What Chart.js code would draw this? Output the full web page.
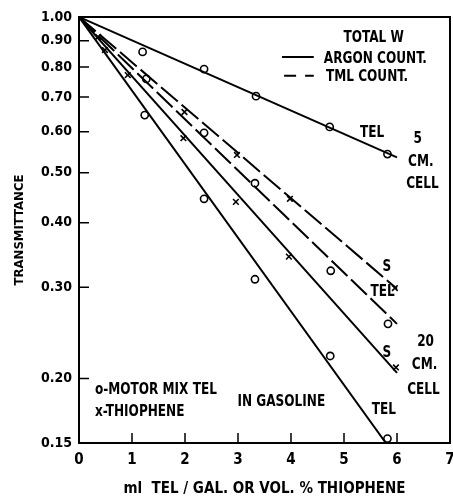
<!DOCTYPE html>
<html>
<head>
<meta charset="utf-8">
<script src="https://cdn.jsdelivr.net/npm/chart.js@4/dist/chart.umd.min.js"></script>
<style>
  html, body { margin: 0; padding: 0; background: #fff; }
  #wrap { width: 453px; height: 499px; }
</style>
</head>
<body>
<div id="wrap"><canvas id="c" width="453" height="499"></canvas></div>
<script>
// ---- axis ticks ----
const xTicks = [0, 1, 2, 3, 4, 5, 6, 7];
const yTicks = [0.15, 0.20, 0.30, 0.40, 0.50, 0.60, 0.70, 0.80, 0.90, 1.00];

// ---- measured points ----
// motor mix TEL, 5 cm cell
const tel5X = [1.20, 2.36, 3.34, 4.73, 5.82];
const tel5Y = [0.856, 0.793, 0.703, 0.613, 0.543];
// motor mix TEL, 20 cm cell (upper group, TML count)
const telTmlX = [1.27, 2.36, 3.32, 4.75, 5.83];
const telTmlY = [0.759, 0.597, 0.477, 0.323, 0.255];
// motor mix TEL, 20 cm cell (lower group, argon count)
const telArX = [1.24, 2.36, 3.32, 4.74, 5.82];
const telArY = [0.646, 0.445, 0.311, 0.221, 0.153];
// thiophene, TML count
const thioTmlX = [0.36, 1.99, 2.98, 3.98, 5.96];
const thioTmlY = [0.915, 0.655, 0.541, 0.445, 0.299];
// thiophene, argon count
const thioArX = [0.49, 0.92, 1.97, 2.96, 3.96, 5.98];
const thioArY = [0.863, 0.772, 0.583, 0.439, 0.344, 0.210];

// ---- fitted lines (start, end) ----
const fitTel5X = [0, 6.0];      const fitTel5Y = [1.0, 0.535];
const fitThioTmlX = [0, 6.0];   const fitThioTmlY = [1.0, 0.298];
const fitTelTmlX = [0, 6.0];    const fitTelTmlY = [1.0, 0.255];
const fitThioArX = [0, 6.0];    const fitThioArY = [1.0, 0.205];
const fitTelArX = [0, 5.79];    const fitTelArY = [1.0, 0.150];

// ---- text annotations ----
const notes = [
  {t: 'TOTAL W', x: 5.56, y: 0.911, a: 'center'},
  {t: 'ARGON COUNT.', x: 4.62, y: 0.829, a: 'left'},
  {t: 'TML COUNT.', x: 4.66, y: 0.765, a: 'left'},
  {t: 'TEL', x: 5.53, y: 0.596, a: 'center'},
  {t: '5', x: 6.39, y: 0.581, a: 'center'},
  {t: 'CM.', x: 6.45, y: 0.524, a: 'center'},
  {t: 'CELL', x: 6.48, y: 0.475, a: 'center'},
  {t: 'S', x: 5.81, y: 0.328, a: 'center'},
  {t: 'TEL', x: 5.73, y: 0.294, a: 'center'},
  {t: 'S', x: 5.81, y: 0.224, a: 'center'},
  {t: '20', x: 6.54, y: 0.235, a: 'center'},
  {t: 'CM.', x: 6.52, y: 0.212, a: 'center'},
  {t: 'CELL', x: 6.50, y: 0.190, a: 'center'},
  {t: 'TEL', x: 5.75, y: 0.174, a: 'center'},
  {t: 'o-MOTOR MIX TEL', x: 0.30, y: 0.190, a: 'left'},
  {t: 'x-THIOPHENE', x: 0.30, y: 0.172, a: 'left'},
  {t: 'IN GASOLINE', x: 2.99, y: 0.180, a: 'left'}
];
// legend samples (x range in data units, y in transmittance)
const legendSolid = {x: [3.83, 4.43], y: 0.837};
const legendDash = {x: [3.87, 4.43], y: 0.770};

const FONT = "'DejaVu Sans Condensed', 'DejaVu Sans', sans-serif";
const pts = (xs, ys) => xs.map((v, i) => ({x: v, y: ys[i]}));

function lineDs(xs, ys, dashed) {
  return {type: 'line', data: pts(xs, ys), borderColor: '#000', borderWidth: 2,
          borderDash: dashed ? [22, 5] : [], pointRadius: 0, fill: false, tension: 0};
}
function markDs(xs, ys, style) {
  return {type: 'scatter', data: pts(xs, ys), pointStyle: style,
          pointRadius: style === 'circle' ? 3.6 : 4, pointBorderWidth: 1.6,
          pointBackgroundColor: '#fff', pointBorderColor: '#000', showLine: false};
}

const frame = {
  id: 'frame',
  afterDatasetsDraw(chart) {
    const {ctx, chartArea: ca, scales: {x, y}} = chart;
    ctx.save();
    ctx.strokeStyle = '#000';
    ctx.lineWidth = 2;
    // top and right frame
    ctx.beginPath();
    ctx.moveTo(ca.left, ca.top); ctx.lineTo(ca.right, ca.top); ctx.lineTo(ca.right, ca.bottom);
    ctx.stroke();
    // inward tick marks
    ctx.lineWidth = 1.5;
    ctx.beginPath();
    xTicks.forEach(v => { if (v > 0 && v < 7) { const px = x.getPixelForValue(v); ctx.moveTo(px, ca.bottom); ctx.lineTo(px, ca.bottom - 10); } });
    yTicks.forEach(v => { if (v > 0.15 && v < 1) { const py = y.getPixelForValue(v); ctx.moveTo(ca.left, py); ctx.lineTo(ca.left + 10, py); } });
    ctx.stroke();
    // legend samples
    ctx.lineWidth = 2;
    ctx.beginPath();
    ctx.moveTo(x.getPixelForValue(legendSolid.x[0]), y.getPixelForValue(legendSolid.y));
    ctx.lineTo(x.getPixelForValue(legendSolid.x[1]), y.getPixelForValue(legendSolid.y));
    ctx.stroke();
    ctx.setLineDash([12, 9]);
    ctx.beginPath();
    ctx.moveTo(x.getPixelForValue(legendDash.x[0]), y.getPixelForValue(legendDash.y));
    ctx.lineTo(x.getPixelForValue(legendDash.x[1]), y.getPixelForValue(legendDash.y));
    ctx.stroke();
    ctx.setLineDash([]);
    // text (narrow lettering: horizontally compressed)
    ctx.fillStyle = '#000';
    ctx.font = 'bold 16px ' + FONT;
    ctx.textBaseline = 'middle';
    const sx = 0.84;
    notes.forEach(n => {
      ctx.save();
      ctx.translate(x.getPixelForValue(n.x), y.getPixelForValue(n.y));
      ctx.scale(sx, 1);
      ctx.textAlign = n.a;
      ctx.fillText(n.t, 0, 0);
      ctx.restore();
    });
    ctx.restore();
  }
};

new Chart(document.getElementById('c'), {
  type: 'scatter',
  data: {
    datasets: [
      lineDs(fitTel5X, fitTel5Y, false),
      lineDs(fitThioTmlX, fitThioTmlY, true),
      lineDs(fitTelTmlX, fitTelTmlY, true),
      lineDs(fitThioArX, fitThioArY, false),
      lineDs(fitTelArX, fitTelArY, false),
      markDs(tel5X, tel5Y, 'circle'),
      markDs(telTmlX, telTmlY, 'circle'),
      markDs(telArX, telArY, 'circle'),
      markDs(thioTmlX, thioTmlY, 'crossRot'),
      markDs(thioArX, thioArY, 'crossRot')
    ]
  },
  options: {
    responsive: false,
    animation: false,
    devicePixelRatio: 1,
    layout: {autoPadding: false, padding: {top: 17, right: 3, left: 0, bottom: 0}},
    plugins: {legend: {display: false}, tooltip: {enabled: false}},
    scales: {
      x: {
        type: 'linear', min: 0, max: 7,
        afterBuildTicks: s => { s.ticks = xTicks.map(v => ({value: v})); },
        afterFit: s => { s.height = 56; s.paddingLeft = 0; s.paddingRight = 0; },
        grid: {display: false, drawTicks: false},
        border: {display: true, color: '#000', width: 2},
        ticks: {color: '#000', padding: 8, font: {family: FONT, size: 15, weight: 'bold'},
                maxRotation: 0, autoSkip: false, callback: v => String(v)},
        title: {display: true, text: 'ml  TEL / GAL. OR VOL. % THIOPHENE', color: '#000',
                font: {family: FONT, size: 15, weight: 'bold', lineHeight: 1}, padding: {top: 0, bottom: 2}}
      },
      y: {
        type: 'logarithmic', min: 0.15, max: 1.0,
        afterBuildTicks: s => { s.ticks = yTicks.map(v => ({value: v})); },
        afterFit: s => { s.width = 79; },
        grid: {display: false, drawTicks: false},
        border: {display: true, color: '#000', width: 2},
        ticks: {color: '#000', padding: 7, font: {family: FONT, size: 14, weight: 'bold'},
                autoSkip: false, callback: v => Number(v).toFixed(2)},
        title: {display: true, text: 'TRANSMITTANCE', color: '#000',
                font: {family: FONT, size: 13, weight: 'bold', lineHeight: 1}, padding: {top: 13, bottom: 0}}
      }
    }
  },
  plugins: [frame]
});
</script>
</body>
</html>
